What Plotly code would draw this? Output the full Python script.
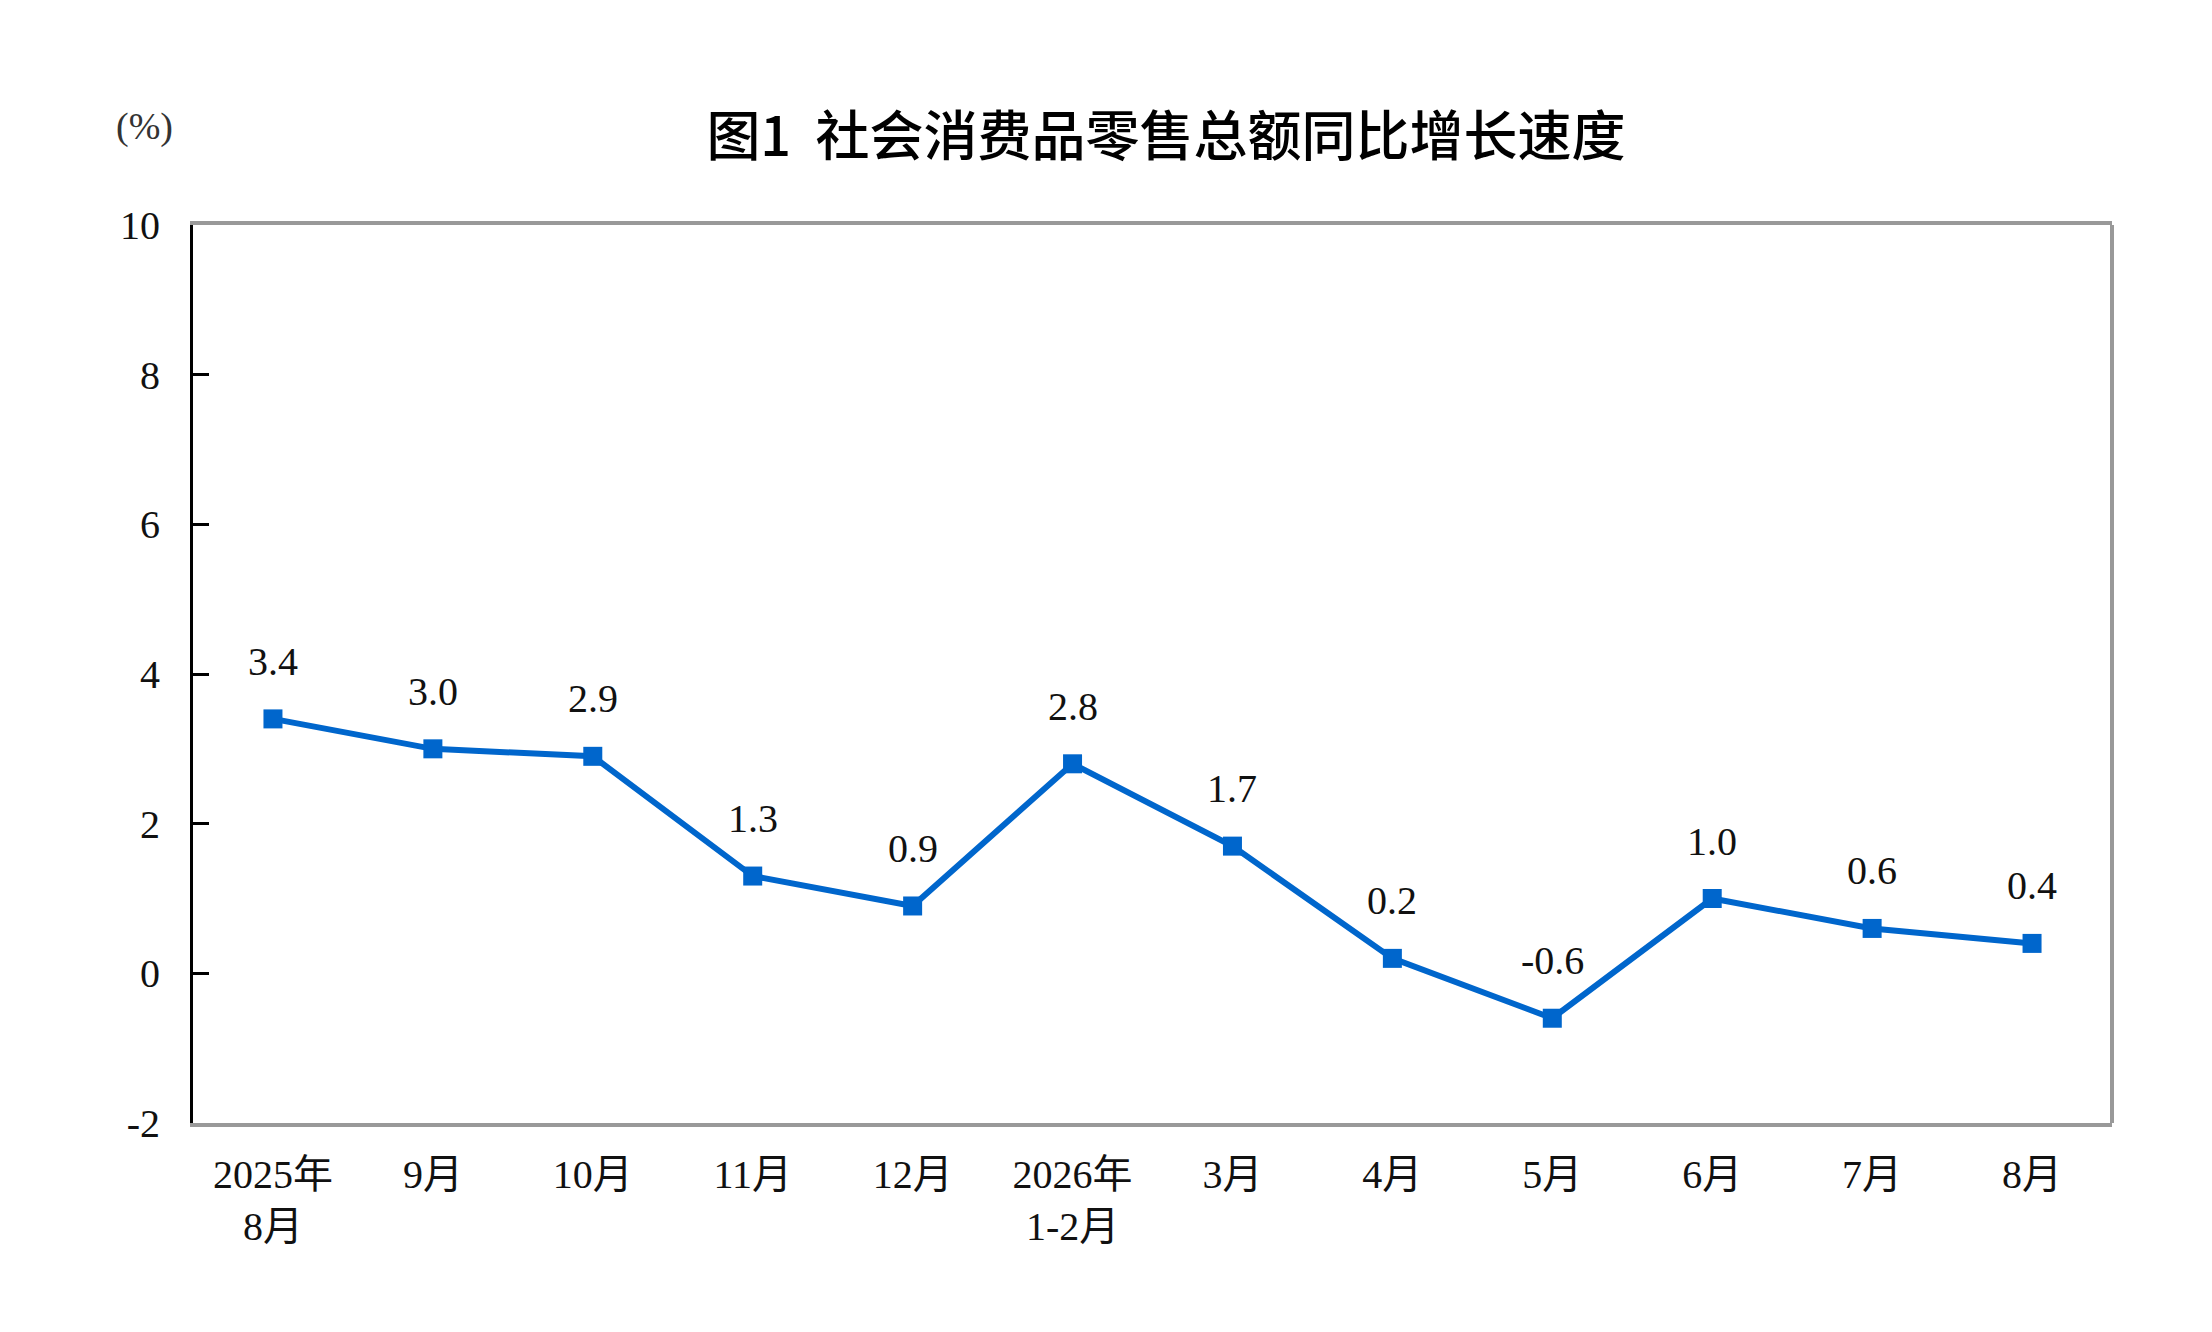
import plotly.graph_objects as go

# 月份与同比增速(%)
months = ['2025年<br>8月', '9月', '10月', '11月', '12月', '2026年<br>1-2月',
          '3月', '4月', '5月', '6月', '7月', '8月']
growth = [3.4, 3.0, 2.9, 1.3, 0.9, 2.8, 1.7, 0.2, -0.6, 1.0, 0.6, 0.4]
y_ticks = [-2, 0, 2, 4, 6, 8, 10]
y_ticktext = ['-2', '0', '2', '4', '6', '8', '10']

blue = '#0066CC'
serif = 'Times New Roman, Liberation Serif, Noto Sans CJK SC, serif'

fig = go.Figure()
fig.add_trace(
	go.Scatter(
		x=months, y=growth, mode='lines+markers',
		line=dict(color=blue, width=6),
		marker=dict(symbol='square', size=19, color=blue),
		hoverinfo='x+y', showlegend=False))

# data labels above each point
for m, v in zip(months, growth):
	fig.add_annotation(
		x=m, y=v, text=f'{v:.1f}', showarrow=False,
		yanchor='bottom', yshift=33,
		font=dict(family=serif, size=40, color='#111111'))

fig.add_annotation(
	xref='paper', yref='paper', x=-0.0255, y=1.11, text='(%)',
	showarrow=False, xanchor='center', yanchor='middle',
	font=dict(family=serif, size=38, color='#333333'))

# right side of the frame
fig.add_shape(
	type='line', xref='paper', yref='paper', x0=1, x1=1, y0=0, y1=1,
	line=dict(color='#999999', width=4))

# page body has an 8px margin, so the figure is a bit smaller than the window
fig.update_layout(
	width=2196, height=1316,
	margin=dict(l=185, r=92, t=217, b=201),
	paper_bgcolor='white', plot_bgcolor='white',
	title=dict(
		text='图1  社会消费品零售总额同比增长速度',
		x=0.507, xref='paper', xanchor='center',
		y=1 - 129 / 1316, yref='container', yanchor='middle',
		font=dict(family='Noto Sans CJK SC, sans-serif', size=54, color='#000000', weight=500)),
	xaxis=dict(
		type='category', range=[-0.5, 11.5],
		showline=True, linecolor='#999999', linewidth=4, mirror=True,
		ticks='', showgrid=False, zeroline=False,
		ticklabelstandoff=13,
		tickfont=dict(family=serif, size=40, color='#111111')),
	yaxis=dict(
		range=[-2, 10], tickvals=y_ticks, ticktext=y_ticktext,
		showline=True, linecolor='#000000', linewidth=3,
		ticks='inside', ticklen=16, tickwidth=3, tickcolor='#000000',
		ticklabelstandoff=22,
		showgrid=False, zeroline=False,
		tickfont=dict(family=serif, size=40, color='#111111')),
)

fig.write_html('out.html')
